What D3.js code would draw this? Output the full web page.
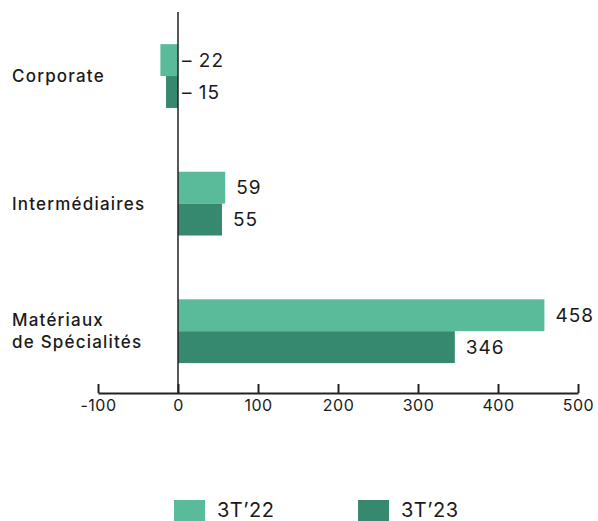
<!DOCTYPE html>
<html>
<head>
<meta charset="utf-8">
<script src="https://cdn.jsdelivr.net/npm/d3@7"></script>
<style>
  body { margin: 0; background: #fff; }
  svg { display: block; font-family: "Inter", "Roboto", sans-serif; }
</style>
</head>
<body>
<script>
const categories = ["Corporate", "Intermédiaires", "Matériaux\nde Spécialités"];
const seriesNames = ["3T’22", "3T’23"];
const values22 = [-22, 59, 458];
const values23 = [-15, 55, 346];
const tickValues = [-100, 0, 100, 200, 300, 400, 500];
const tickLabels = ["-100", "0", "100", "200", "300", "400", "500"];
const colors = ["#59bb99", "#36896e"];

const w = 598, h = 521;
const svg = d3.select("body").append("svg")
  .attr("width", w)
  .attr("height", h);

const x = d3.scaleLinear().domain([-100, 500]).range([98, 578]);
const y = d3.scaleBand().domain(categories)
  .range([12.25, 395]).paddingInner(0.5).paddingOuter(0.25);
const inner = d3.scaleBand().domain(seriesNames).range([0, y.bandwidth()]);

const rows = [];
categories.forEach(function(c, i){
  rows.push({cat: c, s: seriesNames[0], v: values22[i], col: colors[0]});
  rows.push({cat: c, s: seriesNames[1], v: values23[i], col: colors[1]});
});

// bars
svg.selectAll(".bar")
  .data(rows)
  .enter()
  .append("rect")
  .classed("bar", true)
  .attr("x", d => x(Math.min(0, d.v)))
  .attr("width", d => Math.abs(x(d.v) - x(0)))
  .attr("y", d => y(d.cat) + inner(d.s))
  .attr("height", inner.bandwidth())
  .attr("fill", d => d.col);

// value labels
svg.selectAll(".val")
  .data(rows)
  .enter()
  .append("text")
  .classed("val", true)
  .attr("x", d => d.v < 0 ? x(0) + 4 : x(d.v) + 11)
  .attr("y", d => y(d.cat) + inner(d.s) + inner.bandwidth() / 2)
  .attr("dy", "0.35em")
  .attr("font-size", 19)
  .attr("letter-spacing", "1px")
  .attr("fill", "#1a1a1a")
  .text(d => d.v < 0 ? "– " + Math.abs(d.v) : d.v);

// axis
const axisY = 393;
const xAxis = d3.axisBottom(x)
  .tickValues(tickValues)
  .tickFormat((d, i) => tickLabels[i])
  .tickSizeInner(-9)
  .tickSizeOuter(0)
  .tickPadding(7);

const ax = svg.append("g")
  .attr("transform", "translate(0," + axisY + ")")
  .call(xAxis);
ax.select(".domain").attr("stroke", "#222").attr("stroke-width", 2);
ax.selectAll(".tick line").attr("stroke", "#222").attr("stroke-width", 2);
ax.selectAll(".tick text")
  .attr("font-size", 16)
  .attr("letter-spacing", "0.5px")
  .attr("fill", "#1a1a1a")
  .attr("font-family", "Inter, Roboto, sans-serif");

// zero line
svg.append("line")
  .attr("x1", x(0)).attr("x2", x(0))
  .attr("y1", 12).attr("y2", axisY)
  .attr("stroke", "#222")
  .attr("stroke-width", 1.5);

// category labels
svg.selectAll(".cat")
  .data(categories)
  .enter()
  .append("text")
  .classed("cat", true)
  .attr("x", 12)
  .attr("y", d => y(d) + y.bandwidth() / 2)
  .attr("font-size", 17)
  .attr("font-weight", 500)
  .attr("letter-spacing", "1.2px")
  .attr("fill", "#1a1a1a")
  .each(function(d){
    const lines = d.split("\n");
    const t = d3.select(this);
    lines.forEach(function(l, i){
      t.append("tspan")
        .attr("x", 12)
        .attr("dy", i === 0 ? (0.35 - (lines.length - 1) * 0.65) + "em" : "1.3em")
        .text(l);
    });
  });

// legend
const legendX = [174, 358];
const legend = svg.selectAll(".legend")
  .data(seriesNames)
  .enter()
  .append("g")
  .classed("legend", true)
  .attr("transform", (d, i) => "translate(" + legendX[i] + ",500)");
legend.append("rect")
  .attr("width", 31)
  .attr("height", 21)
  .attr("fill", (d, i) => colors[i]);
legend.append("text")
  .attr("x", 43)
  .attr("y", 17)
  .attr("font-size", 20)
  .attr("letter-spacing", "0.5px")
  .attr("fill", "#1a1a1a")
  .text(d => d);
</script>
</body>
</html>
